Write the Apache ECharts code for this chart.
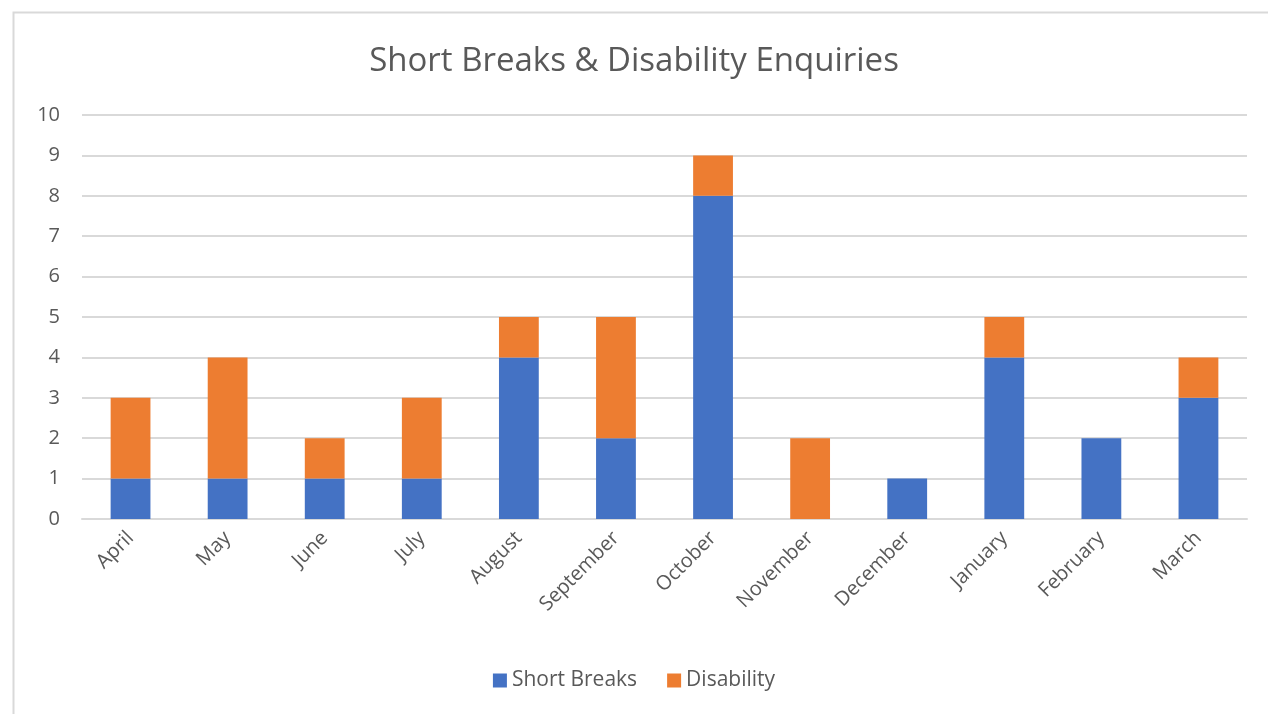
<!DOCTYPE html>
<html>
<head>
<meta charset="utf-8">
<script src="https://cdn.jsdelivr.net/npm/echarts@6/dist/echarts.min.js"></script>
<style>
html,body{margin:0;padding:0;background:#fff;}
#c{width:1268px;height:714px;}
</style>
</head>
<body>
<div id="c"></div>
<script>
const months = ['April','May','June','July','August','September','October','November','December','January','February','March'];
const shortBreaks = [1,1,1,1,4,2,8,0,1,4,2,3];
const disability = [2,3,1,2,1,3,1,2,0,1,0,1];
const yTicks = [0,10,1];

const chart = echarts.init(document.getElementById('c'));
const font = '"Open Sans", sans-serif';
chart.setOption({
  animation:false,
  backgroundColor:'#fff',
  graphic:[{type:'rect',left:11,top:10,shape:{width:1300,height:800},style:{fill:'none',stroke:'#d9d9d9',lineWidth:2},silent:true}],
  title:{text:'Short Breaks & Disability Enquiries',left:'center',top:40,textStyle:{fontFamily:font,fontSize:33,fontWeight:'normal',color:'#595959'}},
  legend:{bottom:18,left:'center',itemWidth:14,itemHeight:14,itemGap:30,icon:'rect',textStyle:{fontFamily:font,fontSize:21,color:'#595959'},data:['Short Breaks','Disability']},
  grid:{left:82,right:21,top:115,bottom:195,containLabel:false},
  xAxis:{type:'category',data:months,axisLine:{lineStyle:{color:'#d9d9d9',width:2}},axisTick:{show:false},
    axisLabel:{rotate:45,interval:0,margin:16,fontFamily:font,fontSize:20,color:'#595959'}},
  yAxis:{type:'value',min:yTicks[0],max:yTicks[1],interval:yTicks[2],axisLine:{show:false},axisTick:{show:false},
    splitLine:{lineStyle:{color:'#d9d9d9',width:2}},axisLabel:{margin:22,fontFamily:font,fontSize:20,color:'#595959'}},
  series:[
    {name:'Short Breaks',type:'bar',stack:'a',barWidth:'41%',data:shortBreaks,itemStyle:{color:'#4472C4'}},
    {name:'Disability',type:'bar',stack:'a',barWidth:'41%',data:disability,itemStyle:{color:'#ED7D31'}}
  ]
});
</script>
</body>
</html>
